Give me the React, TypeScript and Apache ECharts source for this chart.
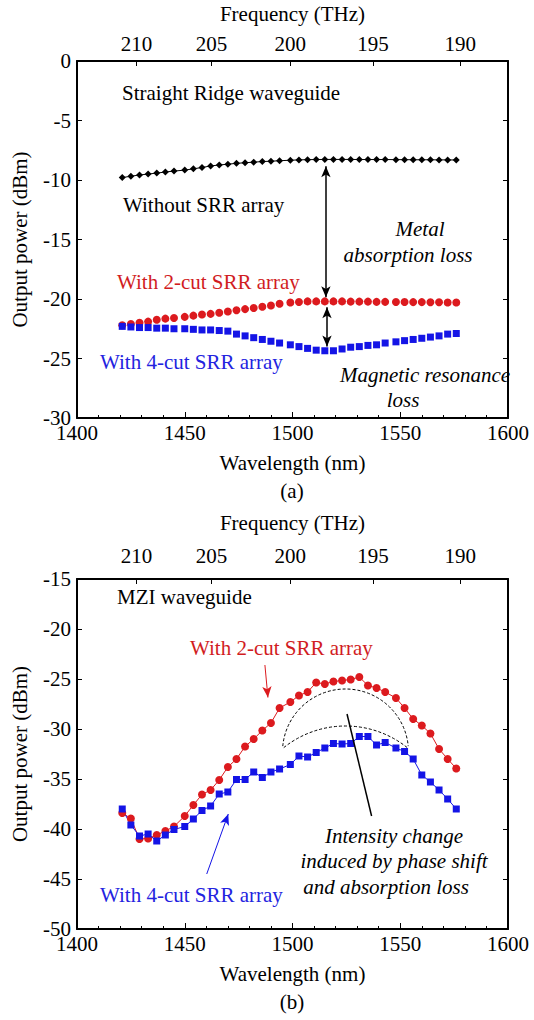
import React, { useEffect, useRef } from "react";
import * as echarts from "echarts";

const C_LIGHT = 299792.458;
const freqTicks = [210, 205, 200, 195, 190];

const wavelengths = [1421, 1425, 1429, 1433, 1437, 1441, 1445, 1450, 1454, 1458, 1462, 1466, 1470, 1474, 1478, 1482, 1486, 1490, 1494, 1499, 1503, 1507, 1511, 1515, 1519, 1523, 1527, 1531, 1535, 1539, 1543, 1548, 1552, 1556, 1560, 1564, 1568, 1572, 1576];

const ridgeWithout = [-9.8, -9.68, -9.58, -9.5, -9.42, -9.33, -9.25, -9.17, -9.06, -8.95, -8.82, -8.74, -8.67, -8.6, -8.55, -8.5, -8.45, -8.42, -8.38, -8.34, -8.31, -8.29, -8.28, -8.27, -8.27, -8.27, -8.27, -8.28, -8.28, -8.28, -8.28, -8.29, -8.29, -8.3, -8.3, -8.3, -8.31, -8.31, -8.32];
const ridge2cut = [-22.2, -22.1, -22.0, -21.9, -21.75, -21.65, -21.6, -21.5, -21.4, -21.3, -21.25, -21.15, -21.05, -20.95, -20.85, -20.75, -20.65, -20.55, -20.4, -20.3, -20.25, -20.2, -20.2, -20.2, -20.2, -20.2, -20.22, -20.22, -20.22, -20.24, -20.24, -20.25, -20.25, -20.26, -20.26, -20.27, -20.28, -20.3, -20.3];
const ridge4cut = [-22.3, -22.35, -22.4, -22.4, -22.45, -22.45, -22.5, -22.5, -22.55, -22.6, -22.6, -22.65, -22.7, -22.95, -23.1, -23.25, -23.4, -23.55, -23.7, -23.85, -24.0, -24.15, -24.3, -24.35, -24.35, -24.2, -24.05, -24.0, -23.9, -23.85, -23.7, -23.6, -23.5, -23.4, -23.3, -23.2, -23.1, -22.95, -22.9];

const mzi2cut = [-38.4, -38.95, -41.0, -40.95, -40.6, -40.2, -39.75, -38.7, -37.6, -36.55, -36.1, -35.1, -33.8, -33.0, -31.75, -31.0, -30.15, -29.4, -27.9, -27.3, -26.65, -26.3, -25.35, -25.5, -25.25, -25.15, -25.05, -24.8, -25.65, -25.9, -26.3, -26.9, -27.9, -29.0, -29.65, -30.45, -32.0, -33.0, -33.95];
const mzi4cut = [-38.0, -39.6, -40.7, -40.5, -41.2, -40.6, -40.05, -39.75, -39.0, -38.15, -37.7, -36.5, -36.3, -35.05, -35.05, -34.3, -34.85, -34.3, -34.0, -33.55, -32.7, -32.8, -32.35, -31.9, -31.45, -31.5, -31.45, -30.75, -30.75, -31.6, -31.35, -31.9, -32.25, -33.0, -34.6, -35.3, -36.1, -37.0, -38.0];

const FONT = '"Liberation Serif", "Times New Roman", serif';
const FS = 21;
const RED = "#dc1a1e";
const BLUE = "#1414e6";
const RED_TXT = "#d11c22";
const BLUE_TXT = "#2323e0";

const zip = (xs: number[], ys: number[]) => xs.map((x, i) => [x, ys[i]]);

const freqWl = freqTicks.map((f) => C_LIGHT / f);

function xAxes(gridIndex: number, topMargin: number, topNameGap: number) {
  return [
    {
      gridIndex,
      type: "value",
      min: 1400,
      max: 1600,
      interval: 50,
      position: "bottom",
      axisLine: { show: true, onZero: false, lineStyle: { color: "#000", width: 2 } },
      axisTick: { show: true, inside: true, length: 6, lineStyle: { color: "#000", width: 1 } },
      minorTick: { show: true, splitNumber: 5, length: 3, lineStyle: { color: "#000", width: 1 } },
      axisLabel: {
        color: "#000",
        fontSize: FS,
        fontFamily: FONT,
        margin: 7,
        lineHeight: 16,
        formatter: (v: number) => String(v),
      },
      splitLine: { show: false },
      minorSplitLine: { show: false },
      name: "Wavelength (nm)",
      nameLocation: "middle",
      nameGap: 34,
      nameTextStyle: { color: "#000", fontSize: FS, fontFamily: FONT },
    },
    {
      gridIndex,
      type: "value",
      min: 1400,
      max: 1600,
      position: "top",
      axisLine: { show: true, onZero: false, lineStyle: { color: "#000", width: 2 } },
      axisTick: { show: true, inside: true, length: 5, customValues: freqWl, lineStyle: { color: "#000", width: 1 } },
      axisLabel: {
        color: "#000",
        fontSize: FS,
        fontFamily: FONT,
        margin: topMargin,
        customValues: freqWl,
        formatter: (v: number) => String(Math.round(C_LIGHT / v)),
      },
      splitLine: { show: false },
      name: "Frequency (THz)",
      nameLocation: "middle",
      nameGap: topNameGap,
      nameTextStyle: { color: "#000", fontSize: FS, fontFamily: FONT },
    },
  ];
}

function yAxes(gridIndex: number, min: number, max: number) {
  return [
    {
      gridIndex,
      type: "value",
      min,
      max,
      interval: 5,
      position: "left",
      axisLine: { show: true, onZero: false, lineStyle: { color: "#000", width: 2 } },
      axisTick: { show: true, inside: true, length: 5, lineStyle: { color: "#000", width: 1 } },
      axisLabel: { color: "#000", fontSize: FS, fontFamily: FONT, margin: 6, lineHeight: 16 },
      splitLine: { show: false },
      name: "Output power (dBm)",
      nameLocation: "middle",
      nameGap: 47,
      nameTextStyle: { color: "#000", fontSize: FS, fontFamily: FONT },
    },
    {
      gridIndex,
      type: "value",
      min,
      max,
      interval: 5,
      position: "right",
      axisLine: { show: true, onZero: false, lineStyle: { color: "#000", width: 2 } },
      axisTick: { show: true, inside: true, length: 5, lineStyle: { color: "#000", width: 1 } },
      axisLabel: { show: false },
      splitLine: { show: false },
    },
  ];
}

function txt(x: number, y: number, text: string, fill = "#000", align = "left", italic = false) {
  return {
    type: "text",
    x,
    y,
    silent: true,
    style: {
      text,
      fill,
      font: `${italic ? "italic " : ""}${FS}px ${FONT}`,
      align,
      textAlign: align,
      verticalAlign: "middle",
      textVerticalAlign: "middle",
    },
  };
}

const arrowLine = (from: number[], to: number[], color: string, startSym: string, endSym: string, width = 1.5) => [
  { coord: from, symbol: startSym, symbolSize: [7, 11], lineStyle: { color, width, type: "solid" } },
  { coord: to, symbol: endSym, symbolSize: [7, 11] },
];

export default function App() {
  const ref = useRef<HTMLDivElement>(null);
  useEffect(() => {
    if (!ref.current) return;
    const chart = echarts.init(ref.current, null, { renderer: "svg" });
    const markBase = {
      silent: true,
      animation: false,
      label: { show: false },
      emphasis: { disabled: true },
    };
    chart.setOption({
      animation: false,
      backgroundColor: "#fff",
      textStyle: { fontFamily: FONT },
      grid: [
        { left: 77, right: 26, top: 61, height: 357 },
        { left: 77, right: 26, top: 579, height: 350 },
      ],
      xAxis: [...xAxes(0, 7, 37), ...xAxes(1, 13, 46)],
      yAxis: [...yAxes(0, -30, 0), ...yAxes(1, -50, -15)],
      series: [
        {
          type: "line",
          xAxisIndex: 0,
          yAxisIndex: 0,
          data: zip(wavelengths, ridgeWithout),
          symbol: "diamond",
          symbolSize: 7,
          lineStyle: { color: "#000", width: 1 },
          itemStyle: { color: "#000" },
          markLine: {
            ...markBase,
            data: [arrowLine([1515.5, -8.85], [1515.5, -19.85], "#000", "arrow", "arrow")],
          },
        },
        {
          type: "line",
          xAxisIndex: 0,
          yAxisIndex: 0,
          data: zip(wavelengths, ridge2cut),
          symbol: "circle",
          symbolSize: 8,
          lineStyle: { width: 0, opacity: 0 },
          itemStyle: { color: RED },
          markLine: {
            ...markBase,
            data: [arrowLine([1516, -20.7], [1516, -24.0], "#000", "arrow", "arrow")],
          },
        },
        {
          type: "line",
          xAxisIndex: 0,
          yAxisIndex: 0,
          data: zip(wavelengths, ridge4cut),
          symbol: "rect",
          symbolSize: 7,
          lineStyle: { width: 0, opacity: 0 },
          itemStyle: { color: BLUE },
        },
        {
          type: "line",
          xAxisIndex: 2,
          yAxisIndex: 2,
          data: zip(wavelengths, mzi2cut),
          symbol: "circle",
          symbolSize: 8,
          lineStyle: { color: RED, width: 1 },
          itemStyle: { color: RED },
          markLine: {
            ...markBase,
            data: [arrowLine([1487.2, -23.6], [1488.6, -26.85], RED, "none", "arrow", 1)],
          },
        },
        {
          type: "line",
          xAxisIndex: 2,
          yAxisIndex: 2,
          data: zip(wavelengths, mzi4cut),
          symbol: "rect",
          symbolSize: 7,
          lineStyle: { color: BLUE, width: 1 },
          itemStyle: { color: BLUE },
          markLine: {
            ...markBase,
            data: [
              arrowLine([1460.2, -44.5], [1470.2, -38.5], BLUE, "none", "arrow", 1),
              arrowLine([1525.3, -28.5], [1536.7, -38.7], "#000", "none", "none", 1.5),
            ],
          },
        },
      ],
      graphic: [
        txt(122, 93, "Straight Ridge waveguide"),
        txt(123, 205, "Without SRR array"),
        txt(420, 229, "Metal", "#000", "center", true),
        txt(408, 255, "absorption loss", "#000", "center", true),
        txt(117, 282, "With 2-cut SRR array", RED_TXT),
        txt(100, 362, "With 4-cut SRR array", BLUE_TXT),
        txt(425, 375, "Magnetic resonance", "#000", "center", true),
        txt(403, 400, "loss", "#000", "center", true),
        txt(292, 491, "(a)", "#000", "center"),
        txt(117, 597, "MZI waveguide"),
        txt(190, 648, "With 2-cut SRR array", RED_TXT),
        txt(394, 836, "Intensity change", "#000", "center", true),
        txt(394, 861, "induced by phase shift", "#000", "center", true),
        txt(386, 887, "and absorption loss", "#000", "center", true),
        txt(100, 895, "With 4-cut SRR array", BLUE_TXT),
        txt(292, 1002, "(b)", "#000", "center"),
        {
          type: "arc",
          silent: true,
          shape: { cx: 345.5, cy: 752, r: 63, startAngle: 3.235, endAngle: 6.19, clockwise: true },
          style: { stroke: "#000", lineWidth: 1, lineDash: [3, 2], fill: "none" },
        },
        {
          type: "arc",
          silent: true,
          shape: { cx: 345.5, cy: 825, r: 99, startAngle: 4.039, endAngle: 5.386, clockwise: true },
          style: { stroke: "#000", lineWidth: 1, lineDash: [3, 2], fill: "none" },
        },
      ],
    });
    return () => chart.dispose();
  }, []);
  return (
    <div
      ref={ref}
      style={{ position: "fixed", left: 0, top: 0, width: 534, height: 1020, background: "#fff" }}
    />
  );
}
